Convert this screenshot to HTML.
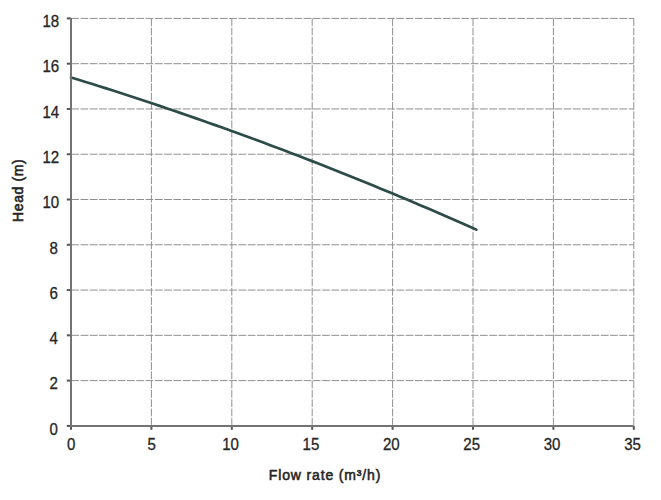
<!DOCTYPE html>
<html><head><meta charset="utf-8"><style>
html,body{margin:0;padding:0;background:#fff;width:661px;height:500px;overflow:hidden}
svg{display:block}
.g{stroke:#909090;stroke-width:1;stroke-dasharray:7.8 1.49;fill:none}
.t{stroke:#555;stroke-width:2}
.a{stroke:#737373;stroke-width:2}
.c{stroke:#2d4c47;stroke-width:2.7;fill:none;stroke-linecap:round;stroke-linejoin:round}
text{font-family:"Liberation Sans",Arial,sans-serif;fill:#262626}
.yl{stroke:#262626;stroke-width:0.3px;font-size:16px;text-anchor:end}
.xl{stroke:#262626;stroke-width:0.3px;font-size:16px;text-anchor:middle}
.tt{letter-spacing:0.85px;stroke:#262626;stroke-width:0.55px;font-size:14px;text-anchor:middle;fill:#262626}
.ht{letter-spacing:0.6px;stroke:#262626;stroke-width:0.6px;font-size:14px;text-anchor:middle;fill:#262626}
</style></head><body>
<svg width="661" height="500" viewBox="0 0 661 500">
<line x1="71.25" y1="380.62" x2="633.80" y2="380.62" class="g"/>
<line x1="71.25" y1="335.34" x2="633.80" y2="335.34" class="g"/>
<line x1="71.25" y1="290.07" x2="633.80" y2="290.07" class="g"/>
<line x1="71.25" y1="244.79" x2="633.80" y2="244.79" class="g"/>
<line x1="71.25" y1="199.51" x2="633.80" y2="199.51" class="g"/>
<line x1="71.25" y1="154.23" x2="633.80" y2="154.23" class="g"/>
<line x1="71.25" y1="108.96" x2="633.80" y2="108.96" class="g"/>
<line x1="71.25" y1="63.68" x2="633.80" y2="63.68" class="g"/>
<line x1="71.25" y1="18.40" x2="633.80" y2="18.40" class="g"/>
<line x1="151.40" y1="18.40" x2="151.40" y2="424.90" class="g"/>
<line x1="231.80" y1="18.40" x2="231.80" y2="424.90" class="g"/>
<line x1="312.20" y1="18.40" x2="312.20" y2="424.90" class="g"/>
<line x1="392.60" y1="18.40" x2="392.60" y2="424.90" class="g"/>
<line x1="473.00" y1="18.40" x2="473.00" y2="424.90" class="g"/>
<line x1="553.40" y1="18.40" x2="553.40" y2="424.90" class="g"/>
<line x1="633.80" y1="18.40" x2="633.80" y2="424.90" class="g"/>
<line x1="66.8" y1="425.90" x2="71.00" y2="425.90" class="t"/>
<line x1="66.8" y1="380.62" x2="71.00" y2="380.62" class="t"/>
<line x1="66.8" y1="335.34" x2="71.00" y2="335.34" class="t"/>
<line x1="66.8" y1="290.07" x2="71.00" y2="290.07" class="t"/>
<line x1="66.8" y1="244.79" x2="71.00" y2="244.79" class="t"/>
<line x1="66.8" y1="199.51" x2="71.00" y2="199.51" class="t"/>
<line x1="66.8" y1="154.23" x2="71.00" y2="154.23" class="t"/>
<line x1="66.8" y1="108.96" x2="71.00" y2="108.96" class="t"/>
<line x1="66.8" y1="63.68" x2="71.00" y2="63.68" class="t"/>
<line x1="66.8" y1="18.40" x2="71.00" y2="18.40" class="t"/>
<line x1="71.00" y1="425.90" x2="71.00" y2="429.8" class="t"/>
<line x1="151.40" y1="425.90" x2="151.40" y2="429.8" class="t"/>
<line x1="231.80" y1="425.90" x2="231.80" y2="429.8" class="t"/>
<line x1="312.20" y1="425.90" x2="312.20" y2="429.8" class="t"/>
<line x1="392.60" y1="425.90" x2="392.60" y2="429.8" class="t"/>
<line x1="473.00" y1="425.90" x2="473.00" y2="429.8" class="t"/>
<line x1="553.40" y1="425.90" x2="553.40" y2="429.8" class="t"/>
<line x1="633.80" y1="425.90" x2="633.80" y2="429.8" class="t"/>
<polyline points="71.00,77.44 77.87,79.55 84.74,81.67 91.61,83.81 98.48,85.97 105.35,88.14 112.22,90.33 119.09,92.53 125.96,94.75 132.83,96.99 139.69,99.24 146.56,101.51 153.43,103.80 160.30,106.10 167.17,108.42 174.04,110.76 180.91,113.11 187.78,115.48 194.65,117.86 201.52,120.26 208.39,122.68 215.26,125.11 222.13,127.56 229.00,130.02 235.87,132.50 242.74,135.00 249.61,137.52 256.48,140.05 263.35,142.59 270.22,145.16 277.08,147.74 283.95,150.33 290.82,152.94 297.69,155.57 304.56,158.22 311.43,160.88 318.30,163.56 325.17,166.25 332.04,168.96 338.91,171.68 345.78,174.43 352.65,177.19 359.52,179.96 366.39,182.75 373.26,185.56 380.13,188.38 387.00,191.22 393.87,194.08 400.74,196.95 407.61,199.84 414.47,202.74 421.34,205.67 428.21,208.60 435.08,211.56 441.95,214.53 448.82,217.51 455.69,220.52 462.56,223.54 469.43,226.57 476.30,229.62" class="c"/>
<line x1="71.00" y1="17.90" x2="71.00" y2="426.90" class="a"/>
<line x1="70.00" y1="425.90" x2="633.80" y2="425.90" class="a"/>
<text transform="translate(57.80,434.70) scale(0.94,1)" class="yl">0</text>
<text transform="translate(57.80,389.42) scale(0.94,1)" class="yl">2</text>
<text transform="translate(57.80,344.14) scale(0.94,1)" class="yl">4</text>
<text transform="translate(57.80,298.87) scale(0.94,1)" class="yl">6</text>
<text transform="translate(57.80,253.59) scale(0.94,1)" class="yl">8</text>
<text transform="translate(59.20,208.31) scale(0.94,1)" class="yl">10</text>
<text transform="translate(59.20,163.03) scale(0.94,1)" class="yl">12</text>
<text transform="translate(59.20,117.76) scale(0.94,1)" class="yl">14</text>
<text transform="translate(59.20,72.48) scale(0.94,1)" class="yl">16</text>
<text transform="translate(59.20,27.20) scale(0.94,1)" class="yl">18</text>
<text transform="translate(71.30,449.7) scale(0.94,1)" class="xl">0</text>
<text transform="translate(151.70,449.7) scale(0.94,1)" class="xl">5</text>
<text transform="translate(230.50,449.7) scale(0.94,1)" class="xl">10</text>
<text transform="translate(310.90,449.7) scale(0.94,1)" class="xl">15</text>
<text transform="translate(391.30,449.7) scale(0.94,1)" class="xl">20</text>
<text transform="translate(471.70,449.7) scale(0.94,1)" class="xl">25</text>
<text transform="translate(552.10,449.7) scale(0.94,1)" class="xl">30</text>
<text transform="translate(632.50,449.7) scale(0.94,1)" class="xl">35</text>
<text x="325.0" y="479.8" class="tt">Flow rate (m³/h)</text>
<text transform="translate(23.4,190.3) rotate(-90)" class="ht">Head (m)</text>
</svg>
</body></html>
